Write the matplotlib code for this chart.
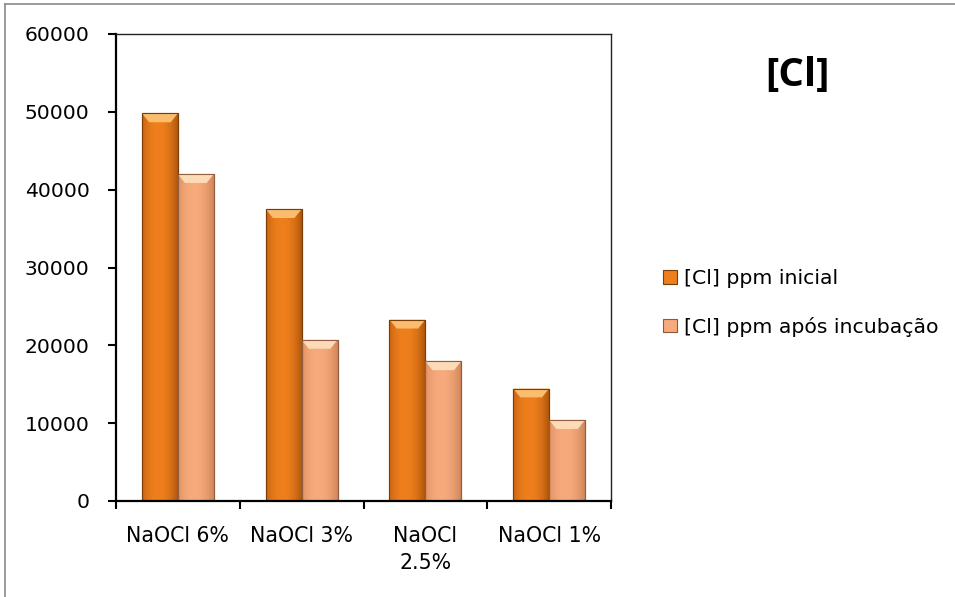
import numpy as np
import matplotlib
matplotlib.use("Agg")
import matplotlib.pyplot as plt
from matplotlib.lines import Line2D
from matplotlib.patches import Polygon, Patch
from matplotlib.colors import to_rgb

categories = ["NaOCl 6%", "NaOCl 3%", "NaOCl\n2.5%", "NaOCl 1%"]
series_names = ["[Cl] ppm inicial", "[Cl] ppm após incubação"]
inicial = [49800, 37500, 23300, 14450]
apos = [42000, 20700, 17950, 10400]
yticks = [0, 10000, 20000, 30000, 40000, 50000, 60000]
title = "[Cl]"

plt.rcParams['font.family'] = ['DejaVu Sans']

fig = plt.figure(figsize=(9.55, 5.97), dpi=100)
ax = fig.add_axes([116/955, 1-501/597, (611-116)/955, (501-34)/597])

x = np.arange(len(categories))
w = 0.29
cols = [("#EE7F1C", "#B0560C", "#FFD890"), ("#F7AA7C", "#CF865A", "#FFF0D0")]
bars1 = ax.bar(x - w/2, inicial, w, color=cols[0][0], edgecolor="#7A3C08", linewidth=0.8, zorder=2)
bars2 = ax.bar(x + w/2, apos, w, color=cols[1][0], edgecolor="#8A5A3A", linewidth=0.8, zorder=2)

ax.set_xlim(-0.5, len(categories) - 0.5)
ax.set_ylim(0, 60000)

def bevel(bars, base, dark, light):
    b = np.array(to_rgb(base)); d = np.array(to_rgb(dark)); l = np.array(to_rgb(light))
    n = 60
    t = np.linspace(0, 1, n)
    prof = np.clip(np.abs(t - 0.45) / 0.55, 0, 1) ** 2.2
    row = b[None, :] * (1 - prof[:, None]) + d[None, :] * prof[:, None]
    img = np.repeat(row[None, :, :], 2, axis=0)
    for bar in bars:
        x0 = bar.get_x(); bw = bar.get_width(); h = bar.get_height()
        im = ax.imshow(img, extent=[x0, x0 + bw, 0, h], aspect='auto', zorder=2.1,
                       interpolation='bilinear')
        im.set_clip_path(bar)
        dx = bw * 0.2
        dy = 60000 * 0.019
        poly = Polygon([[x0, h], [x0 + bw, h], [x0 + bw - dx, h - dy], [x0 + dx, h - dy]],
                       closed=True, facecolor=tuple(0.3 * b + 0.7 * l), edgecolor='none', zorder=2.2)
        ax.add_patch(poly)
        ax.add_patch(plt.Rectangle((x0, 0), bw, h, fill=False, edgecolor=tuple(d * 0.7),
                                   linewidth=0.8, zorder=2.3))

bevel(bars1, *cols[0])
bevel(bars2, *cols[1])

ax.set_yticks(yticks)
ax.set_yticklabels([str(v) for v in yticks])
ax.set_xticks(x)
ax.set_xticklabels(categories, linespacing=1.45)
ax.set_xticks(np.arange(len(categories) + 1) - 0.5, minor=True)
ax.tick_params(axis='x', which='major', length=0, pad=18, labelsize=14.8)
ax.tick_params(axis='x', which='minor', length=6, width=1.5, direction='out')
ax.tick_params(axis='y', which='major', length=6, width=1.5, direction='out', pad=13, labelsize=14.6)
ax.yaxis.set_tick_params(which='minor', left=False)

for s in ['left', 'bottom']:
    ax.spines[s].set_linewidth(1.6)
for s in ['top', 'right']:
    ax.spines[s].set_linewidth(1.0)
    ax.spines[s].set_color('#222222')

fig.text(797/955, 1-76/597, title, fontsize=29, fontweight='bold', ha='center', va='center',
         family=['Open Sans', 'DejaVu Sans'])

handles = [Patch(facecolor=cols[0][0], edgecolor="#7A3C08", linewidth=0.8),
           Patch(facecolor=cols[1][0], edgecolor="#8A5A3A", linewidth=0.8)]
fig.legend(handles, series_names, loc='center left', bbox_to_anchor=(645/955, 1-303/597),
           frameon=False, fontsize=14.7, handlelength=0.65, handleheight=0.65,
           handletextpad=0.35, labelspacing=1.4)

fig.add_artist(Line2D([5/955, 5/955], [0, 1-4/597], transform=fig.transFigure, color='#8a8a8a', linewidth=1.2))
fig.add_artist(Line2D([5/955, 1], [1-4/597, 1-4/597], transform=fig.transFigure, color='#8a8a8a', linewidth=1.2))

fig.savefig("out.png", dpi=100)
